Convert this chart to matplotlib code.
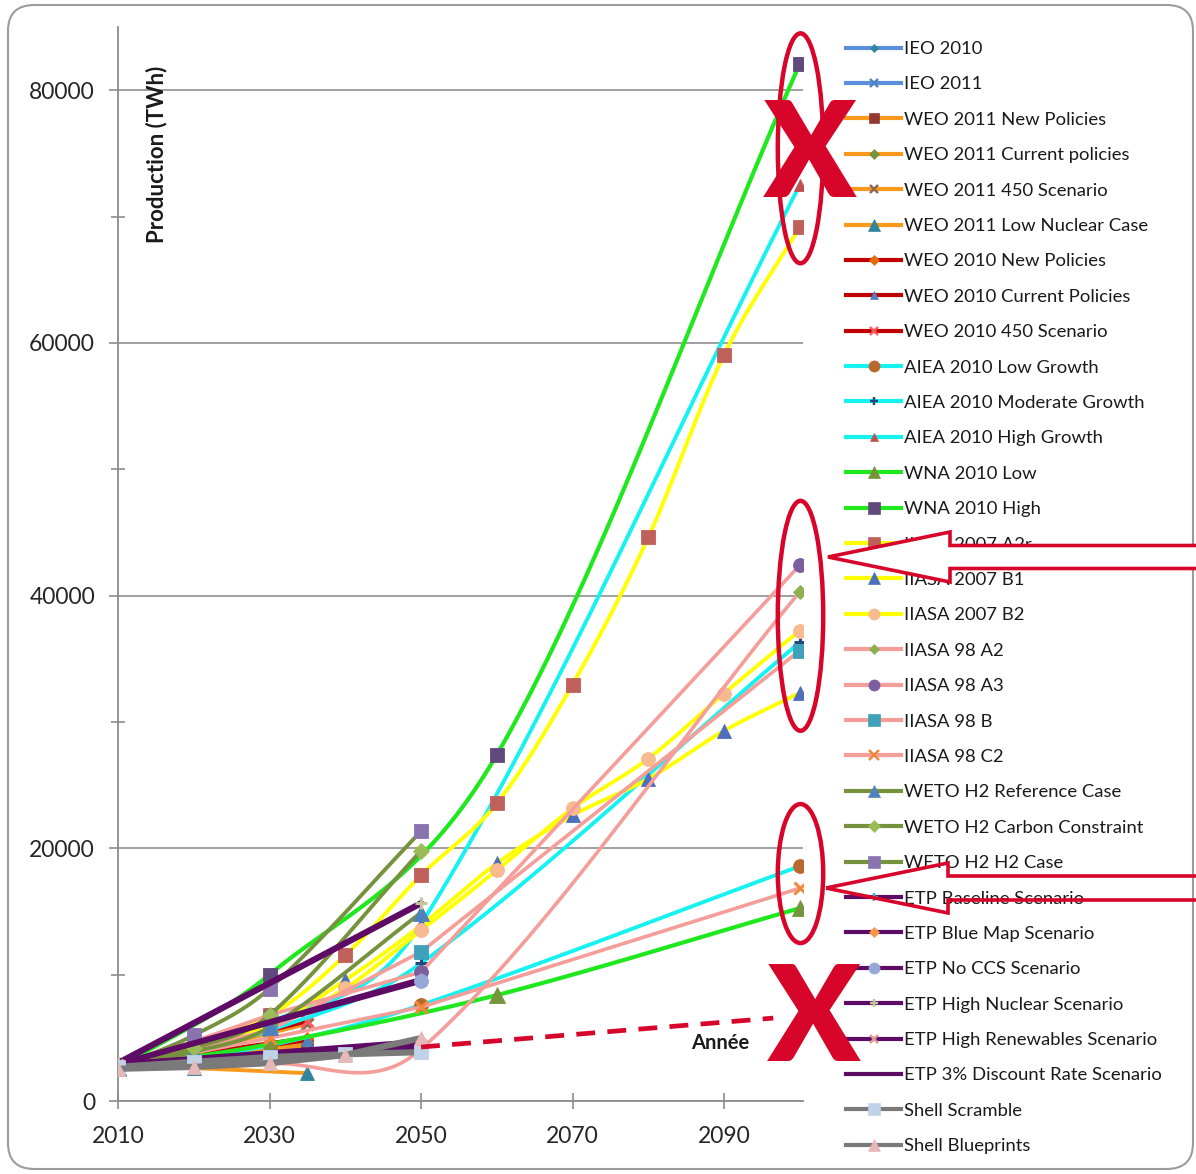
import matplotlib.pyplot as plt
import numpy as np
from matplotlib.lines import Line2D
from matplotlib.patches import Ellipse, FancyBboxPatch, Polygon

plt.rcParams["font.family"] = ["Lato", "DejaVu Sans"]

W, H = 1196, 1174

# nuclear production projections, TWh
IEO_YEARS = [2010, 2020, 2030, 2035]
IEO_2010 = [2630, 3400, 4100, 4500]
IEO_2011 = [2620, 3300, 3900, 4300]

WEO_YEARS = [2010, 2020, 2035]
WEO_2011_NEW = [2760, 3500, 4400]
WEO_2011_CURRENT = [2760, 3600, 4700]
WEO_2011_450 = [2760, 3900, 6100]
WEO_2011_LOW_NUC = [2760, 2600, 2200]
WEO_2010_NEW = [2700, 3700, 5000]
WEO_2010_CURRENT = [2700, 3600, 4800]
WEO_2010_450 = [2700, 4100, 6300]

AIEA_YEARS = [2010, 2030, 2050, 2100]
AIEA_LOW = [2630, 4400, 7600, 18580]
AIEA_MODERATE = [2630, 5600, 10900, 36300]
AIEA_HIGH = [2630, 6200, 14000, 72500]

WNA_YEARS = [2010, 2030, 2060, 2100]
WNA_LOW = [2630, 4500, 8380, 15260]
WNA_HIGH = [2630, 10000, 27400, 82100]

IIASA07_YEARS = [2010, 2030, 2040, 2050, 2060, 2070, 2080, 2090, 2100]
IIASA07_A2R = [2630, 6800, 11540, 17870, 23560, 32960, 44600, 59050, 69170]
IIASA07_B1 = [2630, 6000, 9560, 13900, 18800, 22600, 25500, 29300, 32300]
IIASA07_B2 = [2630, 5800, 8930, 13500, 18260, 23160, 27100, 32250, 37230]

IIASA98_YEARS = [2010, 2030, 2050, 2100]
IIASA98_A2 = [2500, 2950, 4100, 40300]
IIASA98_A3 = [2630, 6800, 10200, 42400]
IIASA98_B = [2630, 5600, 11800, 35650]
IIASA98_C2 = [2630, 4980, 7430, 16840]

WETO_YEARS = [2010, 2020, 2030, 2050]
WETO_REF = [2700, 3900, 5850, 14900]
WETO_CC = [2700, 4200, 6800, 19800]
WETO_H2 = [2700, 5200, 8900, 21340]

ETP_YEARS = [2010, 2050]
ETP_BASELINE = [2900, 4700]
ETP_BLUE_MAP = [2900, 9600]
ETP_NO_CCS = [2900, 9500]
ETP_HIGH_NUC = [3000, 15650]
ETP_HIGH_REN = [2900, 4500]
ETP_DISCOUNT = [2900, 4300]

SHELL_YEARS = [2010, 2020, 2030, 2040, 2050]
SHELL_SCRAMBLE = [2700, 3100, 3480, 3700, 3870]
SHELL_BLUEPRINTS = [2550, 2700, 3000, 3640, 4980]

# red hand-drawn annotations
DASH_YEARS = [2050, 2096.5]
DASH_VALUES = [4270, 6560]
CIRCLED_CENTERS = [75400, 38400, 18000]
CIRCLED_HEIGHTS = [18200, 18200, 11000]

Y_TICKS = [0, 20000, 40000, 60000, 80000]
X_TICKS = [2010, 2030, 2050, 2070, 2090]

RED = "#d8052a"
C_IEO, C_WEO11, C_WEO10 = "#5b8fdc", "#f99a1c", "#c00000"
C_AIEA, C_WNA, C_IIASA07 = "#16f2f2", "#1fe81f", "#ffff00"
C_IIASA98, C_WETO, C_ETP, C_SHELL = "#f59d99", "#76923c", "#5e0b66", "#7a7a7a"

# label, years, values, line colour, marker, marker colour, marker size, smoothed, line width
SERIES = [
    ("IEO 2010", IEO_YEARS, IEO_2010, C_IEO, "D", "#31859c", 5, True, 2.8),
    ("IEO 2011", IEO_YEARS, IEO_2011, C_IEO, "x", "#4f81bd", 7, True, 2.8),
    ("WEO 2011 New Policies", WEO_YEARS, WEO_2011_NEW, C_WEO11, "s", "#953735", 9, True, 2.8),
    ("WEO 2011 Current policies", WEO_YEARS, WEO_2011_CURRENT, C_WEO11, "D", "#77933c", 6, True, 2.8),
    ("WEO 2011 450 Scenario", WEO_YEARS, WEO_2011_450, C_WEO11, "x", "#8a6a55", 8, True, 2.8),
    ("WEO 2011 Low Nuclear Case", WEO_YEARS, WEO_2011_LOW_NUC, C_WEO11, "^", "#31859c", 10, True, 2.8),
    ("WEO 2010 New Policies", WEO_YEARS, WEO_2010_NEW, C_WEO10, "D", "#e46c0a", 6, True, 2.8),
    ("WEO 2010 Current Policies", WEO_YEARS, WEO_2010_CURRENT, C_WEO10, "^", "#4f81bd", 8, True, 2.8),
    ("WEO 2010 450 Scenario", WEO_YEARS, WEO_2010_450, C_WEO10, "x", "#ff5a5a", 8, True, 2.8),
    ("AIEA 2010 Low Growth", AIEA_YEARS, AIEA_LOW, C_AIEA, "o", "#b9692d", 10, True, 2.8),
    ("AIEA 2010 Moderate Growth", AIEA_YEARS, AIEA_MODERATE, C_AIEA, "+", "#1f497d", 8, True, 2.8),
    ("AIEA 2010 High Growth", AIEA_YEARS, AIEA_HIGH, C_AIEA, "^", "#c0504d", 8, True, 2.8),
    ("WNA 2010 Low", WNA_YEARS, WNA_LOW, C_WNA, "^", "#77933c", 11, True, 3.0),
    ("WNA 2010 High", WNA_YEARS, WNA_HIGH, C_WNA, "s", "#604a7b", 10, True, 3.0),
    ("IIASA 2007 A2r", IIASA07_YEARS, IIASA07_A2R, C_IIASA07, "s", "#c0605a", 10, True, 2.8),
    ("IIASA 2007 B1", IIASA07_YEARS, IIASA07_B1, C_IIASA07, "^", "#4f6fbd", 10, True, 2.8),
    ("IIASA 2007 B2", IIASA07_YEARS, IIASA07_B2, C_IIASA07, "o", "#f8ba8f", 10, True, 2.8),
    ("IIASA 98 A2", IIASA98_YEARS, IIASA98_A2, C_IIASA98, "D", "#8db050", 7, True, 2.6),
    ("IIASA 98 A3", IIASA98_YEARS, IIASA98_A3, C_IIASA98, "o", "#7a5ea0", 10, False, 2.6),
    ("IIASA 98 B", IIASA98_YEARS, IIASA98_B, C_IIASA98, "s", "#3fa2ba", 10, False, 2.6),
    ("IIASA 98 C2", IIASA98_YEARS, IIASA98_C2, C_IIASA98, "x", "#ef8a3c", 9, False, 2.6),
    ("WETO H2 Reference Case", WETO_YEARS, WETO_REF, C_WETO, "^", "#4f81bd", 11, True, 2.8),
    ("WETO H2 Carbon Constraint", WETO_YEARS, WETO_CC, C_WETO, "D", "#9bbb59", 8, True, 2.8),
    ("WETO H2 H2 Case", WETO_YEARS, WETO_H2, C_WETO, "s", "#8a74b0", 10, True, 2.8),
    ("ETP Baseline Scenario", ETP_YEARS, ETP_BASELINE, C_ETP, "+", "#4bacc6", 8, False, 4.0),
    ("ETP Blue Map Scenario", ETP_YEARS, ETP_BLUE_MAP, C_ETP, "D", "#f79646", 7, False, 4.0),
    ("ETP No CCS Scenario", ETP_YEARS, ETP_NO_CCS, C_ETP, "o", "#95a8d7", 10, False, 4.0),
    ("ETP High Nuclear Scenario", ETP_YEARS, ETP_HIGH_NUC, C_ETP, "+", "#c4c49a", 8, False, 4.5),
    ("ETP High Renewables Scenario", ETP_YEARS, ETP_HIGH_REN, C_ETP, "x", "#d99795", 7, False, 4.0),
    ("ETP 3% Discount Rate Scenario", ETP_YEARS, ETP_DISCOUNT, C_ETP, "", None, 0, False, 4.0),
    ("Shell Scramble", SHELL_YEARS, SHELL_SCRAMBLE, C_SHELL, "s", "#c0d2e8", 10, False, 4.5),
    ("Shell Blueprints", SHELL_YEARS, SHELL_BLUEPRINTS, C_SHELL, "^", "#e6b9b8", 10, False, 4.5),
]


def smooth(xs, ys, n=40):
    """Cubic Hermite through the points, slopes from neighbouring points (Excel-like smoothing)."""
    xs, ys = np.asarray(xs, float), np.asarray(ys, float)
    if len(xs) < 3:
        return xs, ys
    m = np.empty_like(ys)
    m[1:-1] = (ys[2:] - ys[:-2]) / (xs[2:] - xs[:-2])
    m[0] = (ys[1] - ys[0]) / (xs[1] - xs[0])
    m[-1] = (ys[-1] - ys[-2]) / (xs[-1] - xs[-2])
    px, py = [], []
    for i in range(len(xs) - 1):
        h = xs[i + 1] - xs[i]
        t = np.linspace(0, 1, n)
        h00 = 2 * t**3 - 3 * t**2 + 1
        h10 = t**3 - 2 * t**2 + t
        h01 = -2 * t**3 + 3 * t**2
        h11 = t**3 - t**2
        px.append(xs[i] + t * h)
        py.append(h00 * ys[i] + h10 * h * m[i] + h01 * ys[i + 1] + h11 * h * m[i + 1])
    return np.concatenate(px), np.concatenate(py)


fig = plt.figure(figsize=(W / 100, H / 100), dpi=100)
ax = fig.add_axes([118 / W, 1 - 1101 / H, (803 - 118) / W, (1101 - 27) / H])

handles = []
for i, (label, years, vals, lc, mk, mc, ms, is_smooth, lw) in enumerate(SERIES):
    z = 3 + i * 0.02
    sx, sy = smooth(years, vals) if is_smooth else (years, vals)
    ax.plot(sx, sy, color=lc, lw=lw, solid_capstyle="round", zorder=z)
    mew = 2.2 if mk in ("x", "+") else 0.6
    if mk:
        ax.plot(years, vals, ls="none", marker=mk, ms=ms, mfc=mc, mec=mc, mew=mew, zorder=z + 0.01)
    handles.append(Line2D([], [], color=lc, lw=3.0, marker=mk or None, ms=ms * 0.8,
                          mfc=mc, mec=mc, mew=mew * 0.8, label=label))

ax.set_xlim(2010, 2010 + (803 - 118) / 7.575)
ax.set_ylim(0, 85000)
for s in ("top", "right"):
    ax.spines[s].set_visible(False)
for s in ("left", "bottom"):
    ax.spines[s].set_color("#8c8c8c")
    ax.spines[s].set_linewidth(1.3)

ax.set_yticks(Y_TICKS)
ax.set_yticks(np.arange(10000, 85000, 20000), minor=True)
ax.set_xticks(X_TICKS)
ax.yaxis.grid(True, color="#a0a0a0", lw=1.4)
ax.set_axisbelow(True)
ax.tick_params(axis="y", which="major", direction="out", length=6.5, width=1.2,
               color="#8c8c8c", labelsize=16.5, pad=10, labelcolor="#262626")
ax.tick_params(axis="y", which="minor", direction="inout", length=9.5, width=1.2, color="#8c8c8c")
ax.tick_params(axis="x", which="major", direction="inout", length=12, width=1.2,
               color="#8c8c8c", labelsize=16.5, pad=12, labelcolor="#262626")

# annotations drawn on top of the data
ax.plot(DASH_YEARS, DASH_VALUES, color=RED, lw=3.4, ls=(0, (4, 2.6)), clip_on=False, zorder=20)
for cy, hgt in zip(CIRCLED_CENTERS, CIRCLED_HEIGHTS):
    ax.add_patch(Ellipse((2100.1, cy), 6.0, hgt, fill=False, ec=RED, lw=3.2, clip_on=False, zorder=21))

fig.text(157 / W, 1 - 154 / H, "Production (TWh)", rotation=90, fontsize=16, fontweight="bold",
         ha="center", va="center", color="#1a1a1a")
fig.text(720 / W, 1 - 1043 / H, "Année", fontsize=14.5, fontweight="bold",
         ha="center", va="center", color="#1a1a1a")

fig.legend(handles=handles, loc="upper left", bbox_to_anchor=(846 / W, 1 - 41 / H),
           frameon=False, fontsize=13.3, handlelength=3.0, handletextpad=0.12,
           labelspacing=1.05, borderpad=0, borderaxespad=0, labelcolor="#1a1a1a")

# hollow block arrows pointing at the circled groups
for tip_x, cy, head, shaft, face in [(828, 557, 25, 11.5, "white"), (826, 888, 25, 12, "none")]:
    back = tip_x + 122
    pts = [(tip_x, cy), (back, cy - head), (back, cy - shaft), (1200, cy - shaft),
           (1200, cy + shaft), (back, cy + shaft), (back, cy + head)]
    fig.add_artist(Polygon([(x / W, 1 - y / H) for x, y in pts], closed=True, fc=face,
                           ec=RED, lw=2.6, transform=fig.transFigure, zorder=30))

for x, base in [(810, 197), (814, 1061)]:
    fig.text(x / W, 1 - base / H, "X", fontsize=96, fontweight="heavy", color=RED,
             ha="center", va="baseline", zorder=31)

fig.add_artist(FancyBboxPatch((8 / W, 1 - 1169 / H), (1193 - 8) / W, (1169 - 5) / H,
                              boxstyle="round,pad=0,rounding_size=0.022", fill=False,
                              ec="#9c9c9c", lw=1.5, transform=fig.transFigure, zorder=0))

fig.savefig("out.png", dpi=100)
